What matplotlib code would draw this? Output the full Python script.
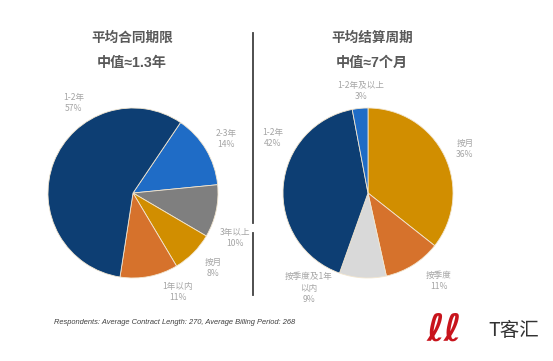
import matplotlib
matplotlib.use("Agg")
import matplotlib.pyplot as plt

plt.rcParams['font.family'] = ['Noto Sans CJK SC', 'DejaVu Sans']

W, H = 553, 361

# left pie: average contract length (clockwise from the 2-3年 slice)
contract_labels = ["2-3年", "3年以上", "按月", "1年以内", "1-2年"]
contract_values = [14, 10, 8, 11, 57]
contract_colors = ["#1F6CC6", "#7F7F7F", "#D18E00", "#D6722C", "#0D3E73"]

# right pie: average billing period (clockwise from the top)
billing_labels = ["按月", "按季度", "按季度及1年\n以内", "1-2年", "1-2年及以上"]
billing_values = [36, 11, 9, 42, 3]
billing_colors = ["#D18E00", "#D6722C", "#D9D9D9", "#0D3E73", "#1F6CC6"]

titles = [("平均合同期限", "中值≈1.3年"), ("平均结算周期", "中值≈7个月")]
footer = "Respondents: Average Contract Length: 270, Average Billing Period: 268"

label_color = "#A5A5A5"
title_color = "#595959"


def px(x, y):
    # pixel position (top-left origin) -> figure fraction
    return x / W, 1 - y / H


def add_pie(cx, cy, r, values, colors, startangle):
    ax = fig.add_axes([(cx - r) / W, 1 - (cy + r) / H, 2 * r / W, 2 * r / H])
    ax.pie(values, colors=colors, startangle=startangle, counterclock=False,
           wedgeprops=dict(edgecolor="#F2E6D0", linewidth=0.6))
    ax.set_xlim(-1.0, 1.0)
    ax.set_ylim(-1.0, 1.0)
    ax.axis('off')
    return ax


def add_label(x, y, name, value):
    fig.text(*px(x, y), f"{name}\n{value}%", ha='center', va='center',
             fontsize=6.2, color=label_color, linespacing=1.3)


fig = plt.figure(figsize=(W / 100, H / 100), dpi=100)
fig.patch.set_facecolor("white")

add_pie(133, 193, 85, contract_values, contract_colors, 90 - 34)
add_pie(368, 193, 85, billing_values, billing_colors, 90)

# titles
title_fam = ['Liberation Sans', 'Noto Sans CJK SC', 'DejaVu Sans']
for (t1, t2), x in zip(titles, [132, 372]):
    fig.text(*px(x, 38), t1, ha='center', va='center', fontsize=9.8,
             fontweight='bold', color=title_color)
    fig.text(*px(x, 63), t2, ha='center', va='center', fontsize=10.2,
             fontweight='bold', color=title_color, family=title_fam)

# slice labels
left_pos = [(226, 139), (235, 238), (213, 268), (178, 292), (74, 103)]
for (x, y), n, v in zip(left_pos, contract_labels, contract_values):
    add_label(x, y, n, v)

right_pos = [(465, 149), (439, 281), (309, 288), (273, 138), (361, 91)]
for (x, y), n, v in zip(right_pos, billing_labels, billing_values):
    add_label(x, y, n, v)

# divider
for y0, y1 in [(33, 223), (233, 295)]:
    fig.add_artist(plt.Line2D([253 / W, 253 / W], [1 - y0 / H, 1 - y1 / H],
                              color="#404040", linewidth=1.3))

# footer
fig.text(*px(54, 322), footer, ha='left', va='center', fontsize=5.45,
         style='italic', color="#404040", family=['Liberation Sans', 'DejaVu Sans'])

# logo
fig.text(*px(444, 330), "ℓℓ", ha='center', va='center', fontsize=27,
         color="#C8141C", fontweight='bold', style='italic',
         family=['DejaVu Serif', 'DejaVu Sans'])
fig.text(*px(514, 331), "T客汇", ha='center', va='center', fontsize=14,
         color="#333333")

fig.savefig("out.png", dpi=100)
